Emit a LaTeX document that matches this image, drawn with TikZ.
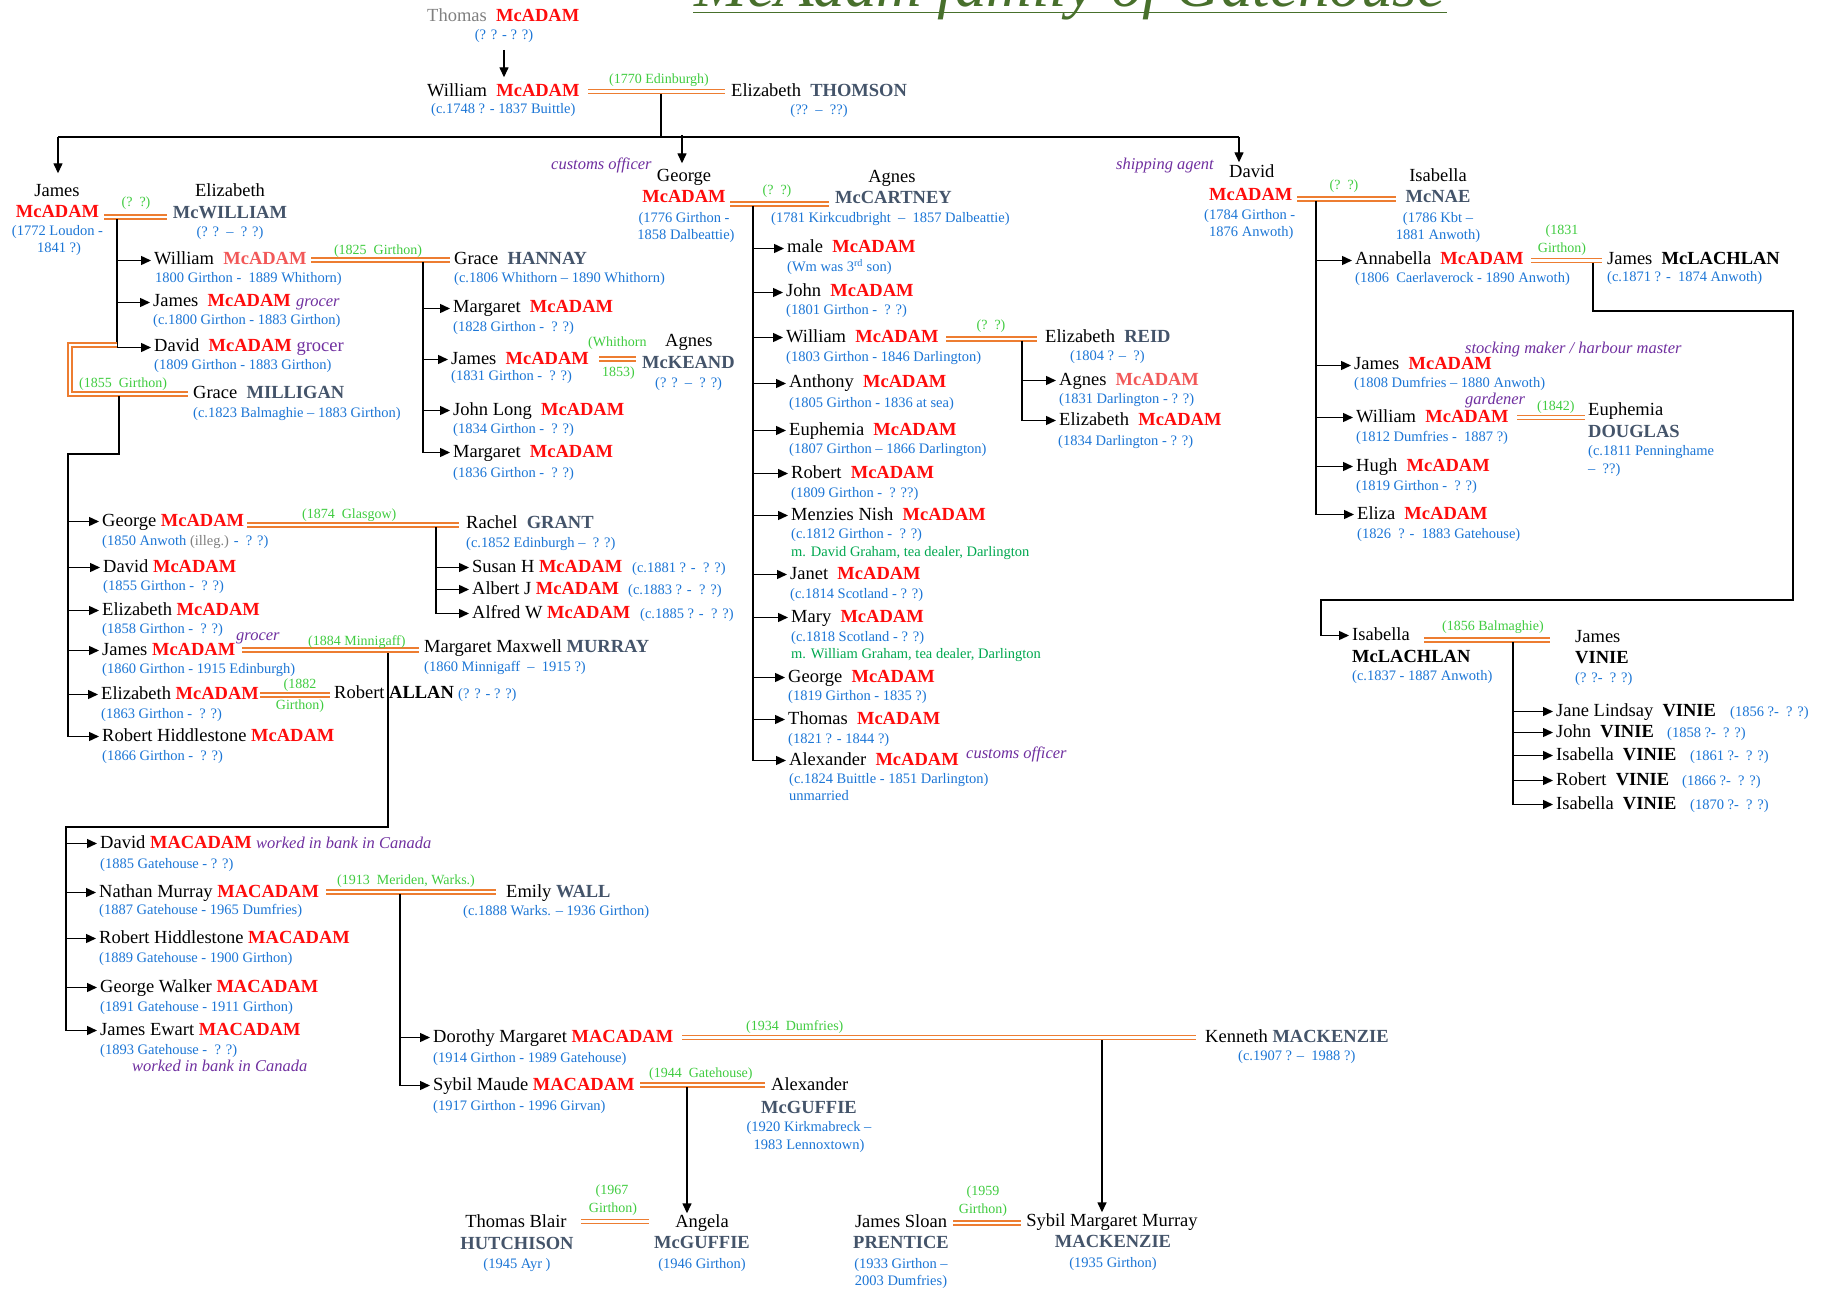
\documentclass[tikz,border=0pt]{standalone}
\usepackage{fontspec}
\setmainfont{Liberation Serif}
\usetikzlibrary{arrows.meta}
\definecolor{mred}{RGB}{255,12,12}
\definecolor{lred}{RGB}{242,88,88}
\definecolor{slate}{RGB}{68,84,106}
\definecolor{dblue}{RGB}{28,118,214}
\definecolor{mgreen}{RGB}{64,204,64}
\definecolor{dgreen}{RGB}{0,168,80}
\definecolor{purp}{RGB}{112,48,160}
\definecolor{morange}{RGB}{237,125,49}
\definecolor{tgray}{RGB}{128,128,128}
\definecolor{tgreen}{RGB}{72,112,44}
\newcommand\famR[1]{\textcolor{mred}{\bfseries #1}}
\newcommand\famL[1]{\textcolor{lred}{\bfseries #1}}
\newcommand\famS[1]{\textcolor{slate}{\bfseries #1}}
\newcommand\famB[1]{{\bfseries #1}}
\newcommand\occu[1]{{\color{purp}\itshape\fontsize{16.5}{18}\selectfont #1}}
\newcommand\childarrow[2]{\draw[arr] (#1 |- #2.west) -- (#2.west);}
\begin{document}
\begin{tikzpicture}[x=1pt,y=-1pt,
  nm/.style={anchor=base west, inner sep=0pt, font=\fontsize{18.5}{20}\selectfont, text height=12.5pt, text depth=3.5pt},
  nmc/.style={nm, anchor=base},
  dt/.style={anchor=base west, inner sep=0pt, font=\fontsize{14.5}{16}\selectfont, text=dblue},
  dtc/.style={dt, anchor=base},
  ml/.style={anchor=base west, inner sep=0pt, font=\fontsize{14}{16}\selectfont, text=mgreen},
  mlc/.style={ml, anchor=base},
  oc/.style={anchor=base west, inner sep=0pt, font=\fontsize{16.5}{18}\selectfont\itshape, text=purp},
  gn/.style={anchor=base west, inner sep=0pt, font=\fontsize{14.5}{16}\selectfont, text=dgreen},
  marr/.style={draw=morange, line width=1.7pt, double=white, double distance=2.3pt, line join=miter},
  ln/.style={draw=black, line width=1.4pt},
  arr/.style={ln, -{Triangle[length=10pt,width=9pt]}, shorten >=3pt}]
\useasboundingbox (0,0) rectangle (1821,1289);
\fill[white] (0,0) rectangle (1821,1289);
% ---------- title
\node[anchor=base, inner sep=0pt, font=\fontsize{63}{70}\selectfont\itshape, text=tgreen] (title) at (1070,7) {McAdam family of Gatehouse};
\draw[tgreen, line width=1.3pt] (693,12.5) -- (1447,12.5);
% ---------- generation 0
\node[nm] (t0) at (427,22) {{\color{tgray}Thomas}~~\famR{McADAM}};
\node[dtc] (t0d) at (504,40) {(? ? - ? ?)};
\node[nm] (w1) at (427,97) {William~~\famR{McADAM}};
\node[dt] (w1d) at (431,114) {(c.1748 ? - 1837 Buittle)};
\draw[arr, shorten <=10pt, shorten >=7pt] (t0d.base) -- (t0d.base |- w1.north);
\draw[marr] (588,91.5) -- (725,91.5);
\node[ml] (m1l) at (609,84) {(1770 Edinburgh)};
\node[nm] (e1) at (731,97) {Elizabeth~~\famS{THOMSON}};
\node[dtc] (e1d) at (819,115) {(??~~–~~??)};
\coordinate (m1c) at (661,94);
\coordinate (busL) at (58,137);
\coordinate (busR) at (1239,137);
\draw[ln] (m1c) -- (m1c |- busL);
\draw[ln] (busL) -- (busR);
% ---------- James (1772)
\node[nmc] (jA) at (57,197) {James};
\node[nmc] (jB) at (57.5,218) {\famR{McADAM}};
\node[dtc] (jD1) at (57.5,236) {(1772 Loudon -};
\node[dtc] (jD2) at (59,253) {1841 ?)};
\draw[arr, shorten >=11pt] (busL) -- (busL |- jA.north);
\draw[marr] (104,217) -- (167,217);
\node[mlc] (mJl) at (136,207) {(?~~?)};
\node[nmc] (ewA) at (230,197) {Elizabeth};
\node[nmc] (ewB) at (230,219) {\famS{McWILLIAM}};
\node[dtc] (ewD) at (230,237) {(? ?~~–~~? ?)};
\coordinate (vJ) at (117,219);
\node[nm] (wm) at (154,265) {William~~\famL{McADAM}};
\node[dt] (wmd) at (155,283) {1800 Girthon -~~1889 Whithorn)};
\node[nm] (jm2) at (153,307) {James~~\famR{McADAM}};
\node[oc] (jm2o) at (296,307) {grocer};
\node[dt] (jm2d) at (153,325) {(c.1800 Girthon - 1883 Girthon)};
\node[nm] (dv) at (154,352) {David~~\famR{McADAM}~{\color{purp}grocer}};
\node[dt] (dvd) at (154,370) {(1809 Girthon - 1883 Girthon)};
\draw[ln] (vJ) -- (vJ |- dv.west);
\childarrow{vJ}{wm}
\childarrow{vJ}{jm2}
\childarrow{vJ}{dv}
% William & Grace HANNAY
\draw[marr] (311,260) -- (450,260);
\node[mlc] (mWl) at (378,255) {(1825~~Girthon)};
\node[nm] (gh) at (454,265) {Grace~~\famS{HANNAY}};
\node[dt] (ghd) at (454,283) {(c.1806 Whithorn – 1890 Whithorn)};
\coordinate (vWG) at (423,262);
\node[nm] (mg1) at (453,313) {Margaret~~\famR{McADAM}};
\node[dt] (mg1d) at (453,332) {(1828 Girthon -~~? ?)};
\node[nm] (jm3) at (451,364) {James~~\famR{McADAM}};
\node[dt] (jm3d) at (451,380) {(1831 Girthon -~~? ?)};
\node[ml] (mKl1) at (588,347) {(Whithorn};
\node[ml] (mKl2) at (602,376) {1853)};
\draw[marr] (599,359) -- (636,359);
\node[nm] (akA) at (665,347) {Agnes};
\node[nm] (akB) at (642,368) {\famS{McKEAND}};
\node[dt] (akD) at (655,387) {(? ?~~–~~? ?)};
\node[nm] (jl) at (453,415) {John Long~~\famR{McADAM}};
\node[dt] (jld) at (453,433) {(1834 Girthon -~~? ?)};
\node[nm] (mg2) at (453,457) {Margaret~~\famR{McADAM}};
\node[dt] (mg2d) at (453,477) {(1836 Girthon -~~? ?)};
\draw[ln] (vWG) -- (vWG |- mg2.west);
\childarrow{vWG}{mg1}
\childarrow{vWG}{jm3}
\childarrow{vWG}{jl}
\childarrow{vWG}{mg2}
% David & Grace MILLIGAN
\draw[marr] (117,345) -- (70,345) -- (70,394) -- (188,394);
\node[ml] (mDl) at (79,387) {(1855~~Girthon)};
\node[nm] (gm) at (193,398) {Grace~~\famS{MILLIGAN}};
\node[dt] (gmd) at (193,417) {(c.1823 Balmaghie – 1883 Girthon)};
\coordinate (vD) at (119,396);
\coordinate (vD2) at (68,454);
\node[nm] (ge) at (102,526) {George~\famR{McADAM}};
\node[dt] (ged) at (102,545) {(1850 Anwoth {\color{tgray}(illeg.)} -~~? ?)};
\node[nm] (dv2) at (103,572) {David~\famR{McADAM}};
\node[dt] (dv2d) at (103,590) {(1855 Girthon -~~? ?)};
\node[nm] (el2) at (102,615) {Elizabeth~\famR{McADAM}};
\node[dt] (el2d) at (102,633) {(1858 Girthon -~~? ?)};
\node[nm] (jm4) at (102,655) {James~\famR{McADAM}};
\node[oc] (jm4o) at (236,640) {grocer};
\node[dt] (jm4d) at (102,673) {(1860 Girthon - 1915 Edinburgh)};
\node[nm] (el3) at (101,699) {Elizabeth~\famR{McADAM}};
\node[dt] (el3d) at (101,718) {(1863 Girthon -~~? ?)};
\node[nm] (rh) at (102,741) {Robert Hiddlestone~\famR{McADAM}};
\node[dt] (rhd) at (102,760) {(1866 Girthon -~~? ?)};
\draw[ln] (vD) -- (vD |- vD2) -- (vD2) -- (vD2 |- rh.west);
\childarrow{vD2}{ge}
\childarrow{vD2}{dv2}
\childarrow{vD2}{el2}
\childarrow{vD2}{jm4}
\childarrow{vD2}{el3}
\childarrow{vD2}{rh}
% George & Rachel GRANT
\draw[marr] (247,525) -- (459,525);
\node[ml] (mGl) at (302,518) {(1874~~Glasgow)};
\node[nm] (rg) at (466,528) {Rachel~~\famS{GRANT}};
\node[dt] (rgd) at (466,547) {(c.1852 Edinburgh –~~? ?)};
\coordinate (vGR) at (436,527);
\node[nm] (sh) at (472,572) {Susan H \famR{McADAM}};
\node[dt] (shd) at (632,572) {(c.1881 ? -~~? ?)};
\node[nm] (aj) at (472,594) {Albert J \famR{McADAM}};
\node[dt] (ajd) at (628,594) {(c.1883 ? -~~? ?)};
\node[nm] (aw) at (472,618) {Alfred W \famR{McADAM}};
\node[dt] (awd) at (640,618) {(c.1885 ? -~~? ?)};
\draw[ln] (vGR) -- (vGR |- aw.west);
\childarrow{vGR}{sh}
\childarrow{vGR}{aj}
\childarrow{vGR}{aw}
% James & Margaret Maxwell MURRAY
\draw[marr] (242,650) -- (419,650);
\node[ml] (mMl) at (308,645) {(1884 Minnigaff)};
\node[nm] (mm) at (424,652) {Margaret Maxwell \famS{MURRAY}};
\node[dt] (mmd) at (424,671) {(1860 Minnigaff~~–~~1915 ?)};
% Elizabeth & Robert ALLAN
\draw[marr] (260,695) -- (330,695);
\node[mlc] (mAl1) at (300,688) {(1882};
\node[mlc] (mAl2) at (300,709) {Girthon)};
\node[nm] (ra) at (334,698) {Robert \famB{ALLAN}};
\node[dt] (rad) at (458,698) {(? ? - ? ?)};
% MACADAM children of James & Margaret
\coordinate (vJM) at (388,653);
\coordinate (vJM2) at (66,827);
\node[nm] (dm) at (100,848) {David \famR{MACADAM}};
\node[oc] (dmo) at (256,848) {worked in bank in Canada};
\node[dt] (dmd) at (100,868) {(1885 Gatehouse - ? ?)};
\node[nm] (nm1) at (99,897) {Nathan Murray \famR{MACADAM}};
\node[dt] (nm1d) at (99,914) {(1887 Gatehouse - 1965 Dumfries)};
\node[nm] (rhm) at (99,943) {Robert Hiddlestone \famR{MACADAM}};
\node[dt] (rhmd) at (99,962) {(1889 Gatehouse - 1900 Girthon)};
\node[nm] (gw) at (100,992) {George Walker \famR{MACADAM}};
\node[dt] (gwd) at (100,1011) {(1891 Gatehouse - 1911 Girthon)};
\node[nm] (je) at (100,1035) {James Ewart \famR{MACADAM}};
\node[dt] (jed) at (100,1054) {(1893 Gatehouse -~~? ?)};
\node[oc] (jeo) at (132,1071) {worked in bank in Canada};
\draw[ln] (vJM) -- (vJM |- vJM2) -- (vJM2) -- (vJM2 |- je.west);
\childarrow{vJM2}{dm}
\childarrow{vJM2}{nm1}
\childarrow{vJM2}{rhm}
\childarrow{vJM2}{gw}
\childarrow{vJM2}{je}
% Nathan & Emily WALL
\draw[marr] (326,892) -- (496,892);
\node[ml] (mNl) at (337,884) {(1913~~Meriden, Warks.)};
\node[nm] (ew) at (506,897) {Emily \famS{WALL}};
\node[dt] (ewd) at (463,915) {(c.1888 Warks. – 1936 Girthon)};
\coordinate (vNW) at (400,894);
\node[nm] (dmg) at (433,1042) {Dorothy Margaret \famR{MACADAM}};
\node[dt] (dmgd) at (433,1062) {(1914 Girthon - 1989 Gatehouse)};
\node[nm] (smm) at (433,1090) {Sybil Maude \famR{MACADAM}};
\node[dt] (smmd) at (433,1110) {(1917 Girthon - 1996 Girvan)};
\draw[ln] (vNW) -- (vNW |- smm.west);
\childarrow{vNW}{dmg}
\childarrow{vNW}{smm}
% Dorothy & Kenneth MACKENZIE
\draw[marr] (682,1037.5) -- (1196,1037.5);
\node[ml] (mKMl) at (746,1030) {(1934~~Dumfries)};
\node[nm] (km) at (1205,1042) {Kenneth \famS{MACKENZIE}};
\node[dt] (kmd) at (1238,1060) {(c.1907 ? –~~1988 ?)};
\coordinate (vKM) at (1102,1040);
% Sybil & Alexander McGUFFIE
\draw[marr] (640,1085) -- (765,1085);
\node[ml] (mSl) at (649,1077) {(1944~~Gatehouse)};
\node[nm] (amA) at (771,1090) {Alexander};
\node[nmc] (amB) at (809,1113) {\famS{McGUFFIE}};
\node[dtc] (amD1) at (809,1131) {(1920 Kirkmabreck –};
\node[dtc] (amD2) at (809,1149) {1983 Lennoxtown)};
\coordinate (vSA) at (687,1087);
% generation 6
\node[nmc] (tbA) at (516,1227) {Thomas Blair};
\node[nmc] (tbB) at (517,1249) {\famS{HUTCHISON}};
\node[dtc] (tbD) at (517,1268) {(1945 Ayr )};
\draw[marr] (581,1221.5) -- (649,1221.5);
\node[mlc] (mTl1) at (612,1194) {(1967};
\node[mlc] (mTl2) at (613,1212) {Girthon)};
\node[nmc] (agA) at (702,1227) {Angela};
\node[nmc] (agB) at (702,1248) {\famS{McGUFFIE}};
\node[dtc] (agD) at (702,1268) {(1946 Girthon)};
\draw[arr, shorten >=1pt] (vSA) -- (vSA |- agA.north);
\node[nmc] (jsA) at (901,1227) {James Sloan};
\node[nmc] (jsB) at (901,1248) {\famS{PRENTICE}};
\node[dtc] (jsD1) at (901,1268) {(1933 Girthon –};
\node[dtc] (jsD2) at (901,1285) {2003 Dumfries)};
\draw[marr] (953,1223) -- (1021,1223);
\node[mlc] (mPl1) at (983,1195) {(1959};
\node[mlc] (mPl2) at (983,1213) {Girthon)};
\node[nmc] (smA) at (1112,1226) {Sybil Margaret Murray};
\node[nmc] (smB) at (1113,1247) {\famS{MACKENZIE}};
\node[dtc] (smD) at (1113,1267) {(1935 Girthon)};
\draw[arr, shorten >=1pt] (vKM) -- (vKM |- smA.north);
% ---------- George (1776)
\node[oc] (goc) at (551,170) {customs officer};
\node[nmc] (gA) at (684,182) {George};
\node[nmc] (gB) at (684,203) {\famR{McADAM}};
\node[dtc] (gD1) at (684,223) {(1776 Girthon -};
\node[dtc] (gD2) at (686,240) {1858 Dalbeattie)};
\coordinate (busG) at (682,135);
\draw[arr, shorten >=6pt] (busG) -- (busG |- gA.north);
\draw[marr] (730,204) -- (829,204);
\node[mlc] (mGAl) at (777,195) {(?~~?)};
\node[nmc] (acA) at (892,183) {Agnes};
\node[nm] (acB) at (835,204) {\famS{McCARTNEY}};
\node[dt] (acD) at (771,223) {(1781 Kirkcudbright~~–~~1857 Dalbeattie)};
\coordinate (vGA) at (753,206);
\node[nm] (k1) at (787,253) {male~~\famR{McADAM}};
\node[dt] (k1d) at (787,272) {(Wm was 3\textsuperscript{rd} son)};
\node[nm] (k2) at (786,297) {John~~\famR{McADAM}};
\node[dt] (k2d) at (786,315) {(1801 Girthon -~~? ?)};
\node[nm] (k3) at (786,342) {William~~\famR{McADAM}};
\node[dt] (k3d) at (786,362) {(1803 Girthon - 1846 Darlington)};
\node[nm] (k4) at (789,388) {Anthony~~\famR{McADAM}};
\node[dt] (k4d) at (789,407) {(1805 Girthon - 1836 at sea)};
\node[nm] (k5) at (789,435) {Euphemia~~\famR{McADAM}};
\node[dt] (k5d) at (789,453) {(1807 Girthon – 1866 Darlington)};
\node[nm] (k6) at (791,478) {Robert~~\famR{McADAM}};
\node[dt] (k6d) at (791,497) {(1809 Girthon -~~? ??)};
\node[nm] (k7) at (791,520) {Menzies Nish~~\famR{McADAM}};
\node[dt] (k7d) at (791,538) {(c.1812 Girthon -~~? ?)};
\node[gn] (k7m) at (791,556) {m. David Graham, tea dealer, Darlington};
\node[nm] (k8) at (790,579) {Janet~~\famR{McADAM}};
\node[dt] (k8d) at (790,598) {(c.1814 Scotland - ? ?)};
\node[nm] (k9) at (791,622) {Mary~~\famR{McADAM}};
\node[dt] (k9d) at (791,641) {(c.1818 Scotland - ? ?)};
\node[gn] (k9m) at (791,658) {m. William Graham, tea dealer, Darlington};
\node[nm] (k10) at (788,682) {George~~\famR{McADAM}};
\node[dt] (k10d) at (788,700) {(1819 Girthon - 1835 ?)};
\node[nm] (k11) at (788,724) {Thomas~~\famR{McADAM}};
\node[dt] (k11d) at (788,743) {(1821 ? - 1844 ?)};
\node[nm] (k12) at (789,765) {Alexander~~\famR{McADAM}};
\node[oc] (k12o) at (966,758) {customs officer};
\node[dt] (k12d) at (789,783) {(c.1824 Buittle - 1851 Darlington)};
\node[dt] (k12u) at (789,800) {unmarried};
\draw[ln] (vGA) -- (vGA |- k12.west);
\foreach \k in {k1,k2,k3,k4,k5,k6,k7,k8,k9,k10,k11,k12} {\childarrow{vGA}{\k}}
% William & Elizabeth REID
\draw[marr] (946,339) -- (1037,339);
\node[mlc] (mRl) at (991,330) {(?~~?)};
\node[nm] (er) at (1045,342) {Elizabeth~~\famS{REID}};
\node[dt] (erd) at (1070,360) {(1804 ? –~~?)};
\coordinate (vWR) at (1022,341);
\node[nm] (ag2) at (1059,385) {Agnes~~\famL{McADAM}};
\node[dt] (ag2d) at (1059,403) {(1831 Darlington - ? ?)};
\node[nm] (el4) at (1059,425) {Elizabeth~~\famR{McADAM}};
\node[dt] (el4d) at (1058,445) {(1834 Darlington - ? ?)};
\draw[ln] (vWR) -- (vWR |- el4.west);
\childarrow{vWR}{ag2}
\childarrow{vWR}{el4}
% ---------- David (1784)
\node[oc, anchor=base east] (doc) at (1214,170) {shipping agent};
\node[nm] (dA) at (1229,178) {David};
\node[nm] (dB) at (1209,201) {\famR{McADAM}};
\node[dt] (dD1) at (1204,220) {(1784 Girthon -};
\node[dt] (dD2) at (1209,237) {1876 Anwoth)};
\draw[arr] (busR) -- (busR |- dA.north);
\draw[marr] (1297,199) -- (1396,199);
\node[mlc] (mDIl) at (1344,190) {(?~~?)};
\node[nmc] (inA) at (1438,182) {Isabella};
\node[nmc] (inB) at (1438,203) {\famS{McNAE}};
\node[dtc] (inD1) at (1438,223) {(1786 Kbt –};
\node[dtc] (inD2) at (1438,240) {1881 Anwoth)};
\coordinate (vDI) at (1316,201);
\node[nm] (an) at (1355,265) {Annabella~~\famR{McADAM}};
\node[dt] (and) at (1355,283) {(1806~~Caerlaverock - 1890 Anwoth)};
\node[nm] (jm5) at (1354,370) {James~~\famR{McADAM}};
\node[oc] (jm5o) at (1465,353) {stocking maker / harbour master};
\node[dt] (jm5d) at (1354,388) {(1808 Dumfries – 1880 Anwoth)};
\node[nm] (wm5) at (1356,422) {William~~\famR{McADAM}};
\node[oc] (wm5o) at (1465,404) {gardener};
\node[dt] (wm5d) at (1356,441) {(1812 Dumfries -~~1887 ?)};
\node[nm] (hu) at (1356,471) {Hugh~~\famR{McADAM}};
\node[dt] (hud) at (1356,490) {(1819 Girthon -~~? ?)};
\node[nm] (ez) at (1357,519) {Eliza~~\famR{McADAM}};
\node[dt] (ezd) at (1357,538) {(1826~~? -~~1883 Gatehouse)};
\draw[ln] (vDI) -- (vDI |- ez.west);
\childarrow{vDI}{an}
\childarrow{vDI}{jm5}
\childarrow{vDI}{wm5}
\childarrow{vDI}{hu}
\childarrow{vDI}{ez}
% Annabella & James McLACHLAN
\draw[marr] (1531,260.5) -- (1602,260.5);
\node[mlc] (mAJl1) at (1562,235) {(1831};
\node[mlc] (mAJl2) at (1562,253) {Girthon)};
\node[nm] (jmc) at (1607,265) {James~~\famB{McLACHLAN}};
\node[dt] (jmcd) at (1607,282) {(c.1871 ? -~~1874 Anwoth)};
% William & Euphemia DOUGLAS
\draw[marr] (1517,417.5) -- (1585,417.5);
\node[ml] (mEDl) at (1537,410) {(1842)};
\node[nm] (edA) at (1588,415) {Euphemia};
\node[nm] (edB) at (1588,437) {\famS{DOUGLAS}};
\node[dt] (edD1) at (1588,455) {(c.1811 Penninghame};
\node[dt] (edD2) at (1588,473) {–~~??)};
% Isabella McLACHLAN
\node[nm] (imA) at (1352,640) {Isabella};
\node[nm] (imB) at (1352,662) {\famB{McLACHLAN}};
\node[dt] (imD) at (1352,680) {(c.1837 - 1887 Anwoth)};
\coordinate (vAJ) at (1593,263);
\coordinate (cAJ1) at (1793,311);
\coordinate (cAJ2) at (1321,600);
\draw[ln] (vAJ) -- (vAJ |- cAJ1) -- (cAJ1) -- (cAJ1 |- cAJ2) -- (cAJ2) -- (cAJ2 |- imA.west);
\childarrow{cAJ2}{imA}
% Isabella & James VINIE
\draw[marr] (1424,640) -- (1550,640);
\node[ml] (mIVl) at (1442,630) {(1856 Balmaghie)};
\node[nm] (jvA) at (1575,642) {James};
\node[nm] (jvB) at (1575,663) {\famB{VINIE}};
\node[dt] (jvD) at (1575,682) {(? ?-~~? ?)};
\coordinate (vIV) at (1513,642);
\node[nm] (v1) at (1556,716) {Jane Lindsay~~\famB{VINIE}};
\node[dt] (v1d) at (1730,716) {(1856 ?-~~? ?)};
\node[nm] (v2) at (1556,737) {John~~\famB{VINIE}};
\node[dt] (v2d) at (1667,737) {(1858 ?-~~? ?)};
\node[nm] (v3) at (1556,760) {Isabella~~\famB{VINIE}};
\node[dt] (v3d) at (1690,760) {(1861 ?-~~? ?)};
\node[nm] (v4) at (1556,785) {Robert~~\famB{VINIE}};
\node[dt] (v4d) at (1682,785) {(1866 ?-~~? ?)};
\node[nm] (v5) at (1556,809) {Isabella~~\famB{VINIE}};
\node[dt] (v5d) at (1690,809) {(1870 ?-~~? ?)};
\draw[ln] (vIV) -- (vIV |- v5.west);
\foreach \k in {v1,v2,v3,v4,v5} {\childarrow{vIV}{\k}}
\end{tikzpicture}
\end{document}
